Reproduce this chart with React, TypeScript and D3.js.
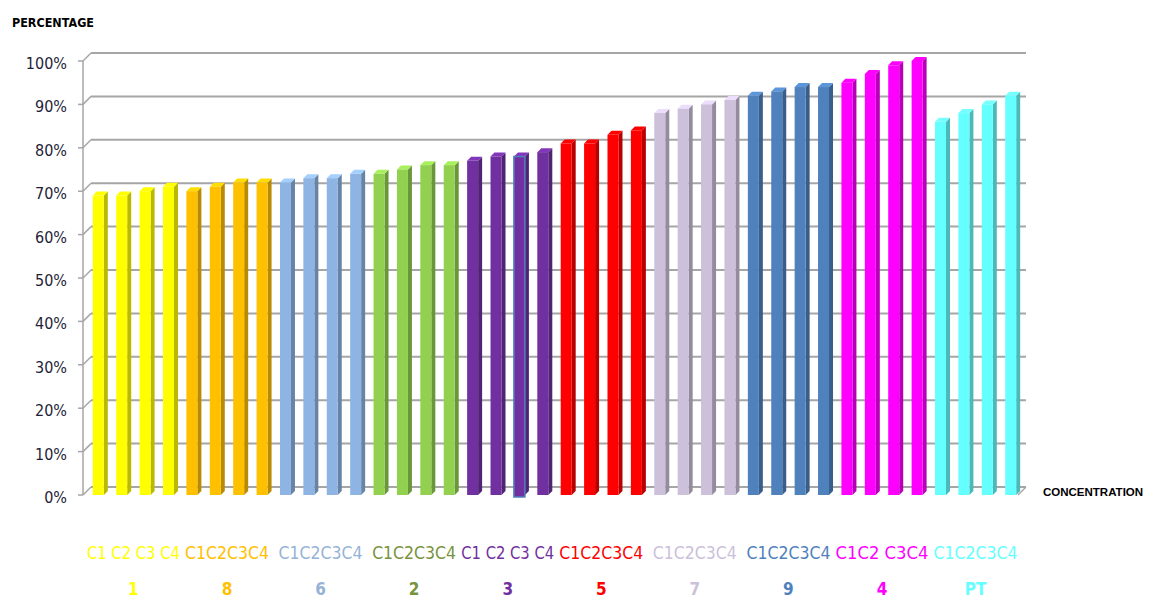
import React from "react";
import * as d3 from "d3";

const groups = ["1", "8", "6", "2", "3", "5", "7", "9", "4", "PT"];
const groupLabels = ["C1 C2 C3 C4", "C1C2C3C4", "C1C2C3C4", "C1C2C3C4", "C1 C2 C3 C4", "C1C2C3C4", "C1C2C3C4", "C1C2C3C4", "C1C2 C3C4", "C1C2C3C4"];
const concentrations = ["C1", "C2", "C3", "C4"];
const values = [
  [69, 69, 70, 71],
  [70, 71, 72, 72],
  [72, 73, 73, 74],
  [74, 75, 76, 76],
  [77, 78, 78, 79],
  [81, 81, 83, 84],
  [88, 89, 90, 91],
  [92, 93, 94, 94],
  [95, 97, 99, 100],
  [86, 88, 90, 92],
];
const barColors = ["#FFFF00", "#FFC000", "#8EB4E3", "#92D050", "#7030A0", "#FF0000", "#CCC0DA", "#4F81BD", "#FF00FF", "#66FFFF"];
const textColors = ["#FFFF00", "#FFC000", "#95B3D7", "#77933C", "#7030A0", "#FF0000", "#CCC0DA", "#4F81BD", "#FF00FF", "#66FFFF"];
const yTicks = [0, 10, 20, 30, 40, 50, 60, 70, 80, 90, 100];

export default function App() {
  const W = 1155, H = 601;
  const bars = groups.flatMap((g, gi) =>
    concentrations.map((c, ci) => ({ key: `${g}-${c}`, gi, ci, v: values[gi][ci] }))
  );
  const x = d3.scaleBand<string>()
    .domain(bars.map((b) => b.key))
    .range([86.5, 1022.5])
    .paddingInner(0.53)
    .paddingOuter(0.27);
  const y = d3.scaleLinear().domain([0, 100]).range([495, 61]);
  const wallDx = 8, wallDy = -8;
  const bdx = 4, bdy = -4;
  const bw = x.bandwidth();
  const font = "'DejaVu Sans', sans-serif";

  return (
    <svg width={W} height={H} style={{ position: "absolute", left: 0, top: 0, background: "#fff" }}>
      {yTicks.map((t) => (
        <g key={t}>
          <line x1={83 + wallDx} x2={1018 + wallDx} y1={y(t) + wallDy} y2={y(t) + wallDy} stroke="#A6A6A6" strokeWidth={2} />
          <line x1={78} x2={83} y1={y(t)} y2={y(t)} stroke="#A6A6A6" strokeWidth={1.5} />
          <line x1={83} x2={83 + wallDx} y1={y(t)} y2={y(t) + wallDy} stroke="#A6A6A6" strokeWidth={1.5} />
          <text x={67} y={y(t) + 8} textAnchor="end" fontFamily={font} fontSize={16} fill="#1F1F3A" style={{ fontStretch: "condensed" }}>
            {t}%
          </text>
        </g>
      ))}
      <line x1={83} x2={83} y1={y(100)} y2={y(0)} stroke="#A6A6A6" strokeWidth={1.5} />
      <line x1={1018} x2={1018 + wallDx} y1={y(0)} y2={y(0) + wallDy} stroke="#A6A6A6" strokeWidth={1.5} />

      {bars.map((b) => {
        const x0 = x(b.key)!;
        const yt = y(b.v);
        const yb = y(0);
        const base = d3.color(barColors[b.gi])!;
        const side = base.darker(0.9).formatHex();
        const top = base.brighter(0.4).formatHex();
        const outlined = b.gi === 4 && b.ci === 2;
        return (
          <g key={b.key}>
            <polygon
              points={`${x0 + bw},${yt} ${x0 + bw + bdx},${yt + bdy} ${x0 + bw + bdx},${yb + bdy} ${x0 + bw},${yb}`}
              fill={side}
            />
            <polygon
              points={`${x0},${yt} ${x0 + bdx},${yt + bdy} ${x0 + bw + bdx},${yt + bdy} ${x0 + bw},${yt}`}
              fill={top}
            />
            <rect x={x0} y={yt} width={bw} height={yb - yt + (outlined ? 2 : 0)} fill={barColors[b.gi]}
              stroke={outlined ? "#4F81BD" : "none"} strokeWidth={outlined ? 1.5 : 0} />
          </g>
        );
      })}

      {groups.map((g, gi) => {
        const first = x(`${g}-C1`)!;
        const last = x(`${g}-C4`)! + bw;
        const cx = (first + last) / 2;
        return (
          <g key={g}>
            <text x={cx} y={559} textAnchor="middle" fontFamily={font} fontSize={17} fill={textColors[gi]}
              textLength={groupLabels[gi].includes(" ") ? 93 : 84} lengthAdjust="spacingAndGlyphs">
              {groupLabels[gi]}
            </text>
            <text x={cx} y={595} textAnchor="middle" fontFamily={font} fontSize={17} fontWeight="bold" fill={textColors[gi]}
              style={{ fontStretch: "condensed" }}>
              {g}
            </text>
          </g>
        );
      })}

      <text x={12} y={27} fontFamily={font} fontSize={12} fontWeight="bold" fill="#000" textLength={82} lengthAdjust="spacingAndGlyphs">
        PERCENTAGE
      </text>
      <text x={1043} y={496} fontFamily="'Liberation Sans', Arial, sans-serif" fontSize={11.5} fontWeight="bold" fill="#000">
        CONCENTRATION
      </text>
    </svg>
  );
}
